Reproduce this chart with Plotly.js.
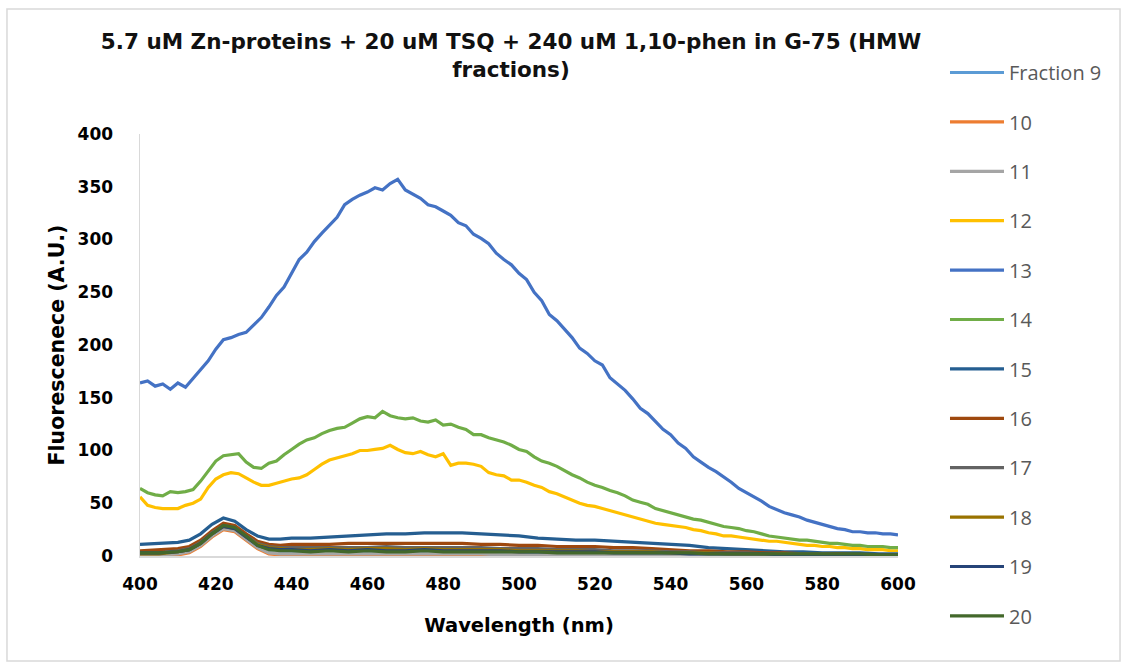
<!DOCTYPE html>
<html>
<head>
<meta charset="utf-8">
<script src="https://cdn.plot.ly/plotly-3.0.1.min.js"></script>
<style>html,body{margin:0;padding:0;background:#fff;}#chart{width:1127px;height:668px;}</style>
</head>
<body>
<div id="chart"></div>
<script>
// Wavelength grid for the three strong series (nm)
const wlMain = [400,402,404,406,408,410,412,414,416,418,
  420,422,424,426,428,430,432,434,436,438,
  440,442,444,446,448,450,452,454,456,458,
  460,462,464,466,468,470,472,474,476,478,
  480,482,484,486,488,490,492,494,496,498,
  500,502,504,506,508,510,512,514,516,518,
  520,522,524,526,528,530,532,534,536,538,
  540,542,544,546,548,550,552,554,556,558,
  560,562,564,566,568,570,572,574,576,578,
  580,582,584,586,588,590,592,594,596,598,600];

// Wavelength grid for the weak series (nm)
const wlLow = [400,405,410,413,416,419,422,425,428,431,434,437,440,445,450,455,460,465,470,475,480,485,490,495,500,505,510,515,520,525,530,535,540,545,550,555,560,565,570,575,580,585,590,595,600];

const f12 = [56,48,46,45,45,45,48,50,54,65,
  73,77,79,78,74,70,67,67,69,71,
  73,74,77,82,87,91,93,95,97,100,
  100,101,102,105,101,98,97,99,96,94,
  97,86,88,88,87,85,79,77,76,72,
  72,70,67,65,61,59,56,53,50,48,
  47,45,43,41,39,37,35,33,31,30,
  29,28,27,25,24,22,21,19,19,18,
  17,16,15,14,14,13,12,11,10,10,
  9,9,8,8,7,7,6,6,6,5,5];

const f13 = [164,166,161,163,158,164,160,168,177,185,
  196,205,207,210,212,219,226,236,247,255,
  268,281,288,298,306,313,321,333,338,342,
  345,349,347,353,357,347,343,339,333,331,
  327,323,316,313,305,301,296,287,281,276,
  268,262,250,242,229,223,215,207,197,192,
  185,181,169,163,157,149,140,135,127,120,
  115,107,102,94,89,84,80,75,70,64,
  60,56,52,47,44,41,39,37,34,32,
  30,28,26,25,23,23,22,22,21,21,20];

const f14 = [64,60,58,57,61,60,61,63,71,80,
  90,95,96,97,89,84,83,88,90,96,
  101,106,110,112,116,119,121,122,126,130,
  132,131,137,133,131,130,131,128,127,129,
  124,125,122,120,115,115,112,110,108,105,
  101,99,94,90,88,85,81,77,74,70,
  67,65,62,60,57,53,51,49,45,43,
  41,39,37,35,34,32,30,28,27,26,
  24,23,21,19,18,17,16,15,15,14,
  13,12,12,11,10,10,9,9,9,8,8];

const f9  = [1,1,2,4,10,19,26,24,16,8, 3,2,2,2,1,2,2,1,2,2, 1,2,1,1,1,1,1,1,1,1, 1,1,1,1,0,1,0,1,0,0, 0,0,0,0,0];
const f10 = [0,1,1,3,9,18,25,23,15,7, 2,1,1,1,1,1,0,1,1,1, 1,0,1,0,1,0,0,1,0,0, 0,0,0,0,0,0,0,0,0,0, 0,0,0,0,0];
const f11 = [1,1,2,4,10,19,26,24,16,8, 3,2,2,2,2,2,2,2,2,2, 2,2,2,1,1,1,1,1,1,1, 1,1,1,1,1,1,1,1,0,0, 0,0,0,0,0];
const f15 = [11,12,13,15,21,30,36,33,25,19, 16,16,17,17,18,19,20,21,21,22, 22,22,21,20,19,17,16,15,15,14, 13,12,11,10,8,7,6,5,4,4, 3,3,3,2,2];
const f16 = [5,6,7,9,15,24,31,29,21,14, 11,10,11,11,11,12,12,12,12,12, 12,12,11,11,10,10,9,9,9,8, 8,7,6,5,5,4,4,3,3,2, 2,2,1,1,1];
const f17 = [3,3,5,7,13,22,29,27,19,12, 9,8,8,8,8,8,8,9,8,8, 8,8,8,7,7,7,6,6,6,5, 5,5,4,4,3,3,3,2,2,2, 2,1,1,1,1];
const f18 = [2,2,4,6,12,21,28,26,18,11, 8,7,6,6,7,6,7,7,6,7, 6,6,6,6,5,5,5,5,4,4, 4,4,3,3,3,2,2,2,2,1, 1,1,1,1,1];
const f19 = [3,3,4,6,12,21,28,26,18,10, 7,6,6,5,6,5,6,5,5,6, 5,5,5,5,4,4,4,4,4,3, 3,3,3,2,2,2,2,2,1,1, 1,1,1,1,1];
const f20 = [3,3,4,6,12,21,29,27,19,10, 6,5,5,4,5,4,5,4,4,5, 4,4,4,4,4,4,3,3,3,3, 3,3,3,3,2,2,2,2,2,2, 2,2,2,1,1];

const seriesNames = ['Fraction 9','10','11','12','13','14','15','16','17','18','19','20'];
const seriesColors = ['#5B9BD5','#ED7D31','#A5A5A5','#FFC000','#4472C4','#70AD47','#255E91','#9E480E','#636363','#997300','#264478','#43682B'];
const seriesX = [wlLow,wlLow,wlLow,wlMain,wlMain,wlMain,wlLow,wlLow,wlLow,wlLow,wlLow,wlLow];
const seriesY = [f9,f10,f11,f12,f13,f14,f15,f16,f17,f18,f19,f20];

const traces = seriesNames.map((n,i)=>({
  type:'scatter', mode:'lines', name:n, x:seriesX[i], y:seriesY[i],
  line:{color:seriesColors[i], width:3.2}, legendgroup:'g'+i
}));

const BOLD = '"DejaVu Sans", sans-serif';
const REG = '"Open Sans", sans-serif';
const layout = {
  width:1127, height:668,
  margin:{l:140, r:229, t:134, b:112},
  paper_bgcolor:'#fff', plot_bgcolor:'#fff',
  font:{family:BOLD, color:'#000'},
  title:{text:'5.7 uM Zn-proteins + 20 uM TSQ + 240 uM 1,10-phen in G-75 (HMW<br>fractions)',
    font:{family:BOLD, size:21.5, weight:'bold', color:'#111'},
    x:0.4534, xanchor:'center', y:0.926, yanchor:'top'},
  xaxis:{range:[400,600], dtick:20, tick0:400, showgrid:false, zeroline:false,
    showline:true, linecolor:'#D9D9D9', linewidth:1.5, ticks:'',
    tickfont:{family:BOLD, size:17, weight:'bold', color:'#000'}, ticklabelstandoff:12,
    title:{text:'Wavelength (nm)', font:{family:BOLD, size:19.5, weight:'bold', color:'#000'}, standoff:25}},
  yaxis:{range:[0,400], dtick:50, tick0:0, showgrid:false, zeroline:false,
    showline:true, linecolor:'#D9D9D9', linewidth:1.5, ticks:'',
    tickfont:{family:BOLD, size:17, weight:'bold', color:'#000'}, ticklabelstandoff:22,
    title:{text:'Fluorescenece (A.U.)', font:{family:BOLD, size:20.5, weight:'bold', color:'#000'}, standoff:7}},
  legend:{x:1.062, xanchor:'left', y:1.192, yanchor:'top', tracegroupgap:20.4, maxheight:660, itemwidth:54,
    font:{family:REG, size:20, color:'#595959'}, bgcolor:'rgba(0,0,0,0)'},
  shapes:[{type:'rect', xref:'paper', yref:'paper', x0:-0.1755, x1:1.2929, y0:-0.2488, y1:1.2962,
    line:{color:'#D9D9D9', width:1.5}, fillcolor:'rgba(0,0,0,0)', layer:'below'}]
};

Plotly.newPlot('chart', traces, layout, {displayModeBar:false, staticPlot:true});
</script>
</body>
</html>
